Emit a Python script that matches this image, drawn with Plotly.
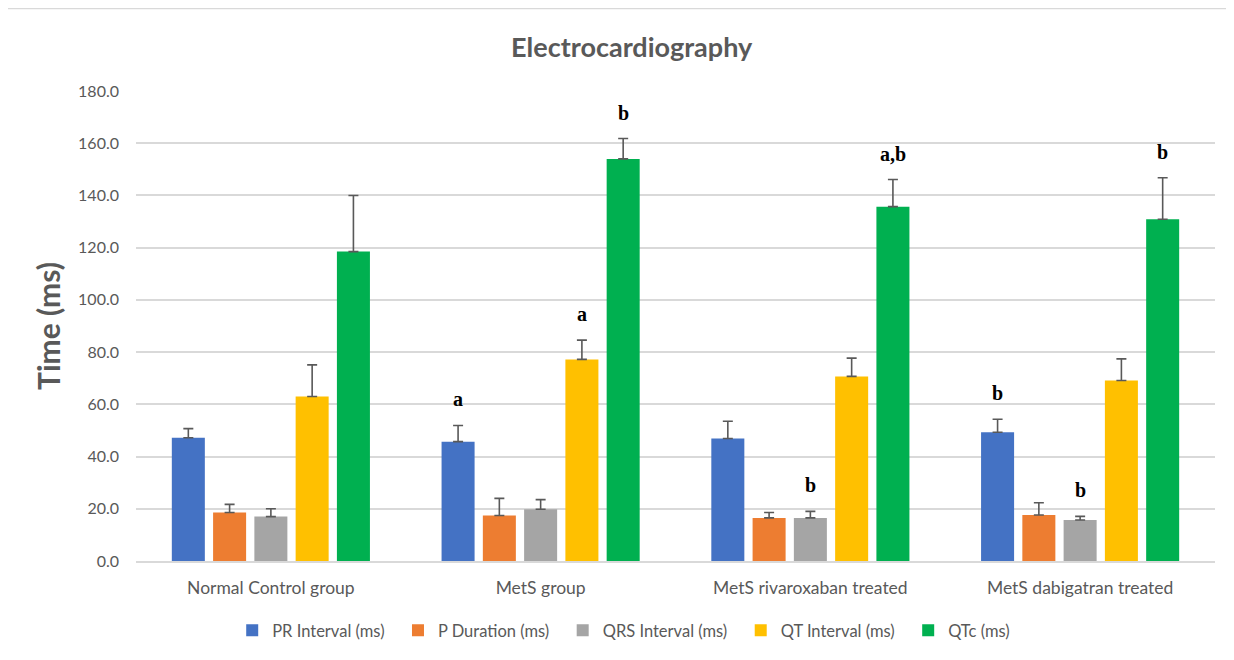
import plotly.graph_objects as go

categories = ["Normal Control group", "MetS group", "MetS rivaroxaban treated", "MetS dabigatran treated"]
series_names = ["PR Interval (ms)", "P Duration (ms)", "QRS Interval (ms)", "QT Interval (ms)", "QTc (ms)"]
colors = ["#4472C4", "#ED7D31", "#A5A5A5", "#FFC000", "#00B050"]

pr_interval = [47.2, 45.7, 46.9, 49.3]
p_duration = [18.6, 17.4, 16.5, 17.6]
qrs_interval = [17.0, 19.8, 16.5, 15.7]
qt_interval = [63.0, 77.2, 70.7, 69.1]
qtc = [118.5, 154.0, 135.7, 130.9]

pr_err = [3.5, 6.2, 6.6, 5.0]
p_err = [3.1, 6.6, 2.1, 4.7]
qrs_err = [3.0, 3.7, 2.5, 1.4]
qt_err = [12.1, 7.4, 7.0, 8.3]
qtc_err = [21.5, 7.8, 10.4, 15.9]

values = [pr_interval, p_duration, qrs_interval, qt_interval, qtc]
errors = [pr_err, p_err, qrs_err, qt_err, qtc_err]

# significance letters: (category index, series index, text)
sig_cat = [1, 1, 1, 2, 2, 3, 3, 3]
sig_series = [0, 3, 4, 2, 4, 0, 2, 4]
sig_text = ["a", "a", "b", "b", "a,b", "b", "b", "b"]

bargap = 0.235
pad = "\u00a0\u00a0"
fig = go.Figure()
for i, (name, vals, errs, col) in enumerate(zip(series_names, values, errors, colors)):
    fig.add_trace(go.Bar(
        x=categories, y=vals, name=name + (pad if i < len(series_names) - 1 else ""),
        marker=dict(color=col, line=dict(width=0)),
        error_y=dict(type="data", array=errs, symmetric=False, arrayminus=[0]*len(errs),
                     color="#595959", thickness=1.6, width=5),
    ))

pitch = (1 - bargap) / len(series_names)
for c, s, t in zip(sig_cat, sig_series, sig_text):
    top = values[s][c] + errors[s][c]
    fig.add_annotation(
        x=c + (s - 2) * pitch, y=top, xref="x", yref="y",
        text="<b>" + t + "</b>", showarrow=False, yanchor="bottom", yshift=13,
        font=dict(family="Liberation Serif", size=20, color="#000000"),
    )

fig.add_shape(type="rect", xref="paper", yref="paper",
              x0=-0.1196, x1=1.0157, y0=-0.215, y1=1.1755,
              line=dict(color="#D9D9D9", width=1.5), fillcolor="rgba(0,0,0,0)")

fig.update_layout(
    width=1226, height=652,
    margin=dict(l=128, r=19, t=83, b=96),
    paper_bgcolor="white", plot_bgcolor="white",
    barmode="group", bargap=bargap, bargroupgap=0.2,
    title=dict(text="<b>Electrocardiography</b>", x=0.5087, xanchor="center", y=0.9387, yanchor="middle",
               font=dict(family="Lato", size=27, color="#595959")),
    font=dict(family="Lato", size=15, color="#595959"),
    legend=dict(orientation="h", x=0.452, xanchor="center", y=-0.148, yanchor="middle",
                font=dict(family="Lato", size=16.5, color="#595959"),
                itemwidth=30, traceorder="normal"),
    showlegend=True,
)
fig.update_yaxes(
    range=[0, 180], dtick=20, tickformat=".1f",
    showgrid=True, gridcolor="#D9D9D9", gridwidth=1.5,
    zeroline=False, showline=False, ticks="", ticklen=0, ticklabelstandoff=16,
    tickfont=dict(family="Lato", size=16, color="#595959"),
    title=dict(text="<b>Time (ms)</b>", font=dict(family="Lato", size=30, color="#595959"), standoff=8),
)
fig.update_xaxes(
    showline=True, linecolor="#D9D9D9", linewidth=1.5,
    ticks="", ticklabelstandoff=10, tickfont=dict(family="Lato", size=17.5, color="#595959"),
)

fig.write_html("out.html")
